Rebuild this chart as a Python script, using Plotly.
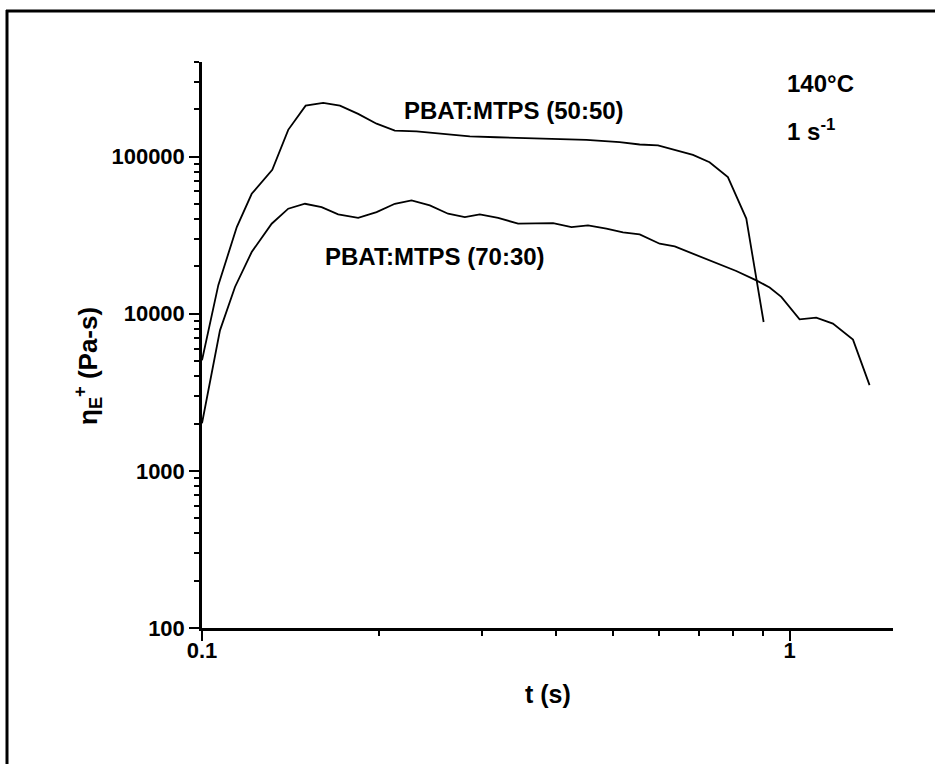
import plotly.graph_objects as go

# PBAT:MTPS (50:50)
t_5050 = [0.100, 0.1066, 0.1146, 0.1215, 0.1317, 0.1402, 0.1501, 0.1608, 0.1717, 0.1844,
          0.1982, 0.2129, 0.2318, 0.2607, 0.2856, 0.3171, 0.3612, 0.4063, 0.4511, 0.5138,
          0.5558, 0.5971, 0.6418, 0.6848, 0.7308, 0.7852, 0.8440, 0.9033]
eta_5050 = [5060, 15200, 35600, 58000, 82400, 148000, 211000, 220000, 211000, 187000,
            162000, 146500, 144900, 139600, 134300, 132800, 130900, 129800, 127900, 123500,
            119400, 117700, 109400, 102600, 92100, 74000, 40300, 8860]

# PBAT:MTPS (70:30)
t_7030 = [0.100, 0.1073, 0.1138, 0.1215, 0.1314, 0.1402, 0.1497, 0.1598, 0.1705, 0.1844,
          0.1982, 0.2129, 0.2273, 0.2442, 0.2623, 0.2801, 0.2970, 0.3191, 0.3451, 0.3709,
          0.3958, 0.4254, 0.4539, 0.4878, 0.5206, 0.5558, 0.6011, 0.6376, 0.6848, 0.7405,
          0.8114, 0.8778, 0.9248, 0.9680, 1.040, 1.110, 1.185, 1.282, 1.368]
eta_7030 = [2010, 7840, 14800, 24700, 37400, 46600, 50100, 47700, 42900, 40800,
            44300, 50100, 52600, 48900, 43300, 41200, 42900, 40800, 37400, 37400,
            37700, 35600, 36500, 34800, 32900, 32000, 27900, 26800, 24100, 21300,
            18700, 16300, 14700, 12800, 9210, 9440, 8650, 6840, 3510]

x_major = [0.1, 1]
x_major_text = ["0.1", "1"]
x_minor = [0.2, 0.3, 0.4, 0.5, 0.6, 0.7, 0.8, 0.9]
y_major = [100, 1000, 10000, 100000]
y_major_text = ["100", "1000", "10000", "100000"]
y_minor = [m * 10 ** d for d in range(2, 6) for m in range(2, 10) if m * 10 ** d <= 400000]

FONT = "Liberation Sans, Arial, sans-serif"

fig = go.Figure()
fig.add_trace(go.Scatter(x=t_5050, y=eta_5050, mode="lines",
                         line=dict(color="black", width=1.8), showlegend=False))
fig.add_trace(go.Scatter(x=t_7030, y=eta_7030, mode="lines",
                         line=dict(color="black", width=1.8), showlegend=False))

L, R, T, B = 202, 893, 62, 628
W, H = 935, 764

def px(x):
    return (x - L) / (R - L)

def py(y):
    return (B - y) / (B - T)

tick_font = dict(family=FONT, size=22, color="black", weight="bold")
axis_common = dict(showline=True, linecolor="black", linewidth=2.5, showgrid=False,
                   zeroline=False, ticks="outside", tickcolor="black", tickwidth=2,
                   ticklen=10, tickfont=tick_font)

fig.update_layout(
    width=W, height=H, autosize=False,
    margin=dict(l=L, r=W - R, t=T, b=H - B),
    paper_bgcolor="white", plot_bgcolor="white",
    xaxis=dict(type="log", range=[-1, 0.176], tickmode="array", tickvals=x_major,
               ticktext=x_major_text, ticklabelstandoff=-9,
               minor=dict(tickmode="array", tickvals=x_minor, ticks="outside", ticklen=5,
                          tickcolor="black", tickwidth=2),
               **axis_common),
    yaxis=dict(type="log", range=[2, 5.602], tickmode="array", tickvals=y_major,
               ticktext=y_major_text,
               minor=dict(tickmode="array", tickvals=y_minor, ticks="outside", ticklen=5,
                          tickcolor="black", tickwidth=2),
               **axis_common),
)

ann_font = dict(family=FONT, size=24, color="black", weight="bold")
fig.add_annotation(text="PBAT:MTPS (50:50)", x=px(514), y=py(111), xref="paper", yref="paper",
                   showarrow=False, xanchor="center", yanchor="middle", font=ann_font)
fig.add_annotation(text="PBAT:MTPS (70:30)", x=px(435), y=py(256), xref="paper", yref="paper",
                   showarrow=False, xanchor="center", yanchor="middle", font=ann_font)
fig.add_annotation(text="140°C", x=px(785), y=py(83), xref="paper", yref="paper",
                   showarrow=False, xanchor="left", yanchor="middle", font=ann_font)
fig.add_annotation(text="1 s<sup>-1</sup>", x=px(785), y=py(130), xref="paper", yref="paper",
                   showarrow=False, xanchor="left", yanchor="middle", font=ann_font)
fig.add_annotation(text="t (s)", x=px(548), y=py(694), xref="paper", yref="paper",
                   showarrow=False, xanchor="center", yanchor="middle",
                   font=dict(family=FONT, size=25, color="black", weight="bold"))
fig.add_annotation(text="η<sub>E</sub><sup>+</sup> (Pa-s)", x=px(88), y=py(366),
                   xref="paper", yref="paper", textangle=-90,
                   showarrow=False, xanchor="center", yanchor="middle",
                   font=dict(family=FONT, size=26, color="black", weight="bold"))

# scanned page frame (only top and left edges are visible in the picture)
fig.add_shape(type="line", xref="paper", yref="paper",
              x0=px(6), x1=px(W), y0=py(11), y1=py(11),
              line=dict(color="black", width=3), layer="above")
fig.add_shape(type="line", xref="paper", yref="paper",
              x0=px(7), x1=px(7), y0=py(10), y1=py(H),
              line=dict(color="black", width=3), layer="above")

fig.write_html("out.html")
